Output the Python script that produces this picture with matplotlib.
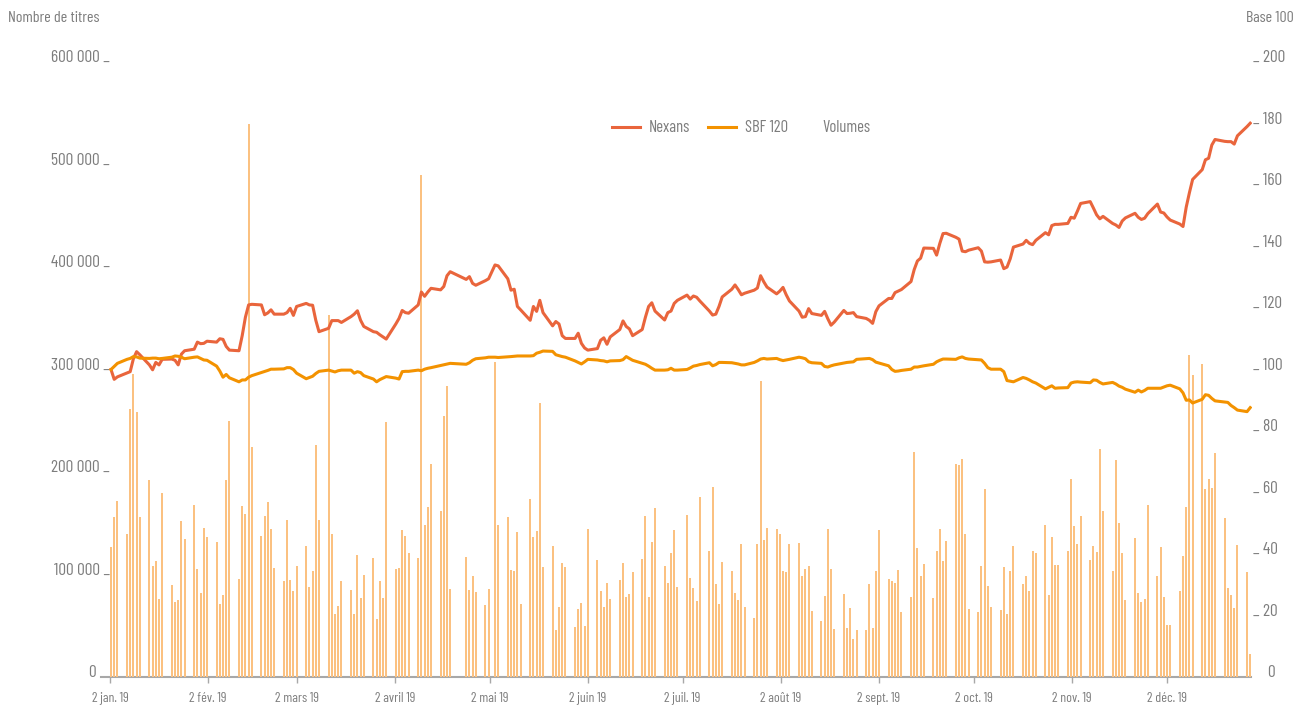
import matplotlib
matplotlib.use('Agg')
import matplotlib.pyplot as plt
import matplotlib.dates as mdates
from matplotlib.lines import Line2D
import numpy as np
import pandas as pd

plt.rcParams['font.family'] = ['Barlow Condensed', 'Roboto Condensed', 'DejaVu Sans']

# ---------------- data ----------------
holidays = ['2019-04-19', '2019-04-22', '2019-05-01']
trading_days = pd.bdate_range('2019-01-02', '2019-12-24')
trading_days = trading_days[~trading_days.isin(pd.to_datetime(holidays))]

# daily volumes (thousands of shares), month by month
vol_jan = [127, 156, 172, 140, 261, 296, 259, 156, 192, 108, 113, 76, 180, 90, 73, 75, 152, 135, 168, 105, 82, 145]
vol_feb = [137, 132, 71, 80, 192, 250, 96, 167, 159, 540, 224, 138, 157, 171, 144, 106, 94, 153, 95, 84]
vol_mar = [108, 128, 88, 103, 226, 153, 353, 140, 61, 69, 94, 85, 61, 119, 77, 100, 116, 57, 94, 77, 249]
vol_apr = [105, 106, 143, 138, 121, 116, 490, 148, 166, 208, 162, 255, 284, 86, 117, 85, 99, 83, 70, 86]
vol_may = [307, 148, 156, 104, 103, 141, 71, 174, 137, 142, 267, 107, 128, 46, 68, 111, 107, 49, 66, 72, 50, 144]
vol_jun = [114, 84, 68, 92, 76, 95, 111, 78, 81, 102, 115, 157, 78, 132, 165, 108, 92, 121, 143, 88]
vol_jul = [158, 97, 87, 74, 176, 123, 185, 91, 71, 112, 103, 82, 75, 130, 68, 58, 130, 289, 134, 145, 144, 140, 103]
vol_aug = [102, 130, 131, 99, 105, 108, 64, 55, 79, 144, 105, 47, 81, 48, 67, 37, 46, 46, 91, 48, 103, 143]
vol_sep = [96, 94, 92, 104, 63, 78, 220, 126, 99, 110, 77, 123, 144, 113, 133, 208, 207, 213, 140, 66, 63]
vol_oct = [108, 183, 89, 68, 65, 107, 61, 103, 128, 91, 99, 84, 123, 121, 148, 80, 137, 109, 109, 123, 193, 147, 130]
vol_nov = [157, 114, 128, 122, 222, 162, 103, 212, 150, 121, 75, 136, 82, 73, 76, 168, 99, 127, 78, 51, 51]
vol_dec = [84, 118, 166, 314, 295, 305, 183, 193, 184, 219, 155, 87, 80, 67, 129, 102, 22]

# Nexans share price, base 100
nex_jan = [100, 96.8, 97.6, 98.9, 99.3, 103.5, 105.8, 104.8, 101.5, 99.9, 102.3, 101.5, 103.3, 103.4, 103.0, 101.5, 105.0, 106.1, 106.6, 108.9, 108.4, 108.5]
nex_feb = [109.2, 108.9, 110.0, 109.8, 107.5, 106.3, 106.1, 111.0, 117.0, 121.0, 121.2, 121.0, 117.8, 118.4, 119.4, 118.0, 118.0, 118.5, 119.9, 117.6]
nex_mar = [120.5, 121.5, 121.0, 120.9, 116.0, 112.3, 113.4, 115.9, 115.9, 115.9, 115.3, 117.2, 118.0, 119.1, 116.0, 114.0, 112.3, 112.1, 111.3, 110.6, 109.9]
nex_apr = [114.8, 116.6, 119.2, 118.5, 118.3, 121.0, 125.2, 123.8, 125.2, 126.4, 125.9, 127.0, 130.5, 131.8, 129.3, 130.2, 128.0, 127.4, 128.9, 129.5]
nex_may = [134.0, 133.7, 129.5, 125.8, 126.1, 120.5, 119.4, 116.0, 120.5, 118.9, 122.5, 118.5, 114.2, 115.6, 114.8, 111.0, 110.1, 110.1, 111.8, 108.5, 107.0, 106.3]
nex_jun = [106.8, 109.5, 110.3, 108.2, 110.6, 113.0, 115.8, 114.0, 113.2, 111.0, 113.0, 117.0, 120.5, 121.7, 119.0, 116.1, 118.5, 119.0, 121.5, 122.5]
nex_jul = [124.2, 122.9, 123.9, 123.5, 122.3, 119.0, 117.7, 118.0, 120.5, 123.6, 126.1, 127.5, 126.0, 124.3, 124.8, 125.8, 126.5, 130.5, 128.5, 126.8, 124.6, 125.5, 126.7]
nex_aug = [124.3, 122.3, 119.0, 117.0, 117.2, 119.8, 118.2, 117.6, 118.9, 116.5, 114.4, 115.4, 119.2, 118.2, 118.3, 118.5, 117.2, 116.6, 116.0, 115.0, 118.8, 120.7]
nex_sep = [123.1, 123.1, 125.0, 125.5, 126.0, 128.6, 132.5, 135.3, 136.2, 139.5, 139.4, 137.2, 141.0, 144.2, 144.3, 143.0, 142.4, 138.5, 138.3, 138.8, 139.6]
nex_oct = [138.5, 135.0, 134.9, 135.0, 135.6, 132.8, 133.3, 136.0, 139.8, 140.8, 142.0, 141.0, 140.6, 142.0, 144.5, 143.8, 146.8, 147.2, 147.2, 147.5, 149.5, 149.2, 151.5]
nex_nov = [154.0, 154.6, 152.5, 150.3, 149.0, 149.8, 147.5, 147.0, 146.2, 148.3, 149.3, 150.8, 149.5, 148.8, 149.2, 150.7, 153.8, 151.2, 150.9, 149.6, 148.6]
nex_dec = [147.3, 146.5, 152.8, 157.5, 161.8, 165.0, 168.2, 168.7, 173.0, 174.8, 174.2, 174.1, 174.1, 173.3, 176.0, 179.0, 180.1]

# SBF 120, base 100
sbf_jan = [100, 101.0, 102.0, 103.3, 103.6, 104.2, 104.1, 103.7, 103.6, 103.7, 103.7, 103.5, 103.6, 104.0, 104.4, 104.3, 104.0, 103.5, 104.0, 104.1, 103.6, 103.1]
sbf_feb = [103.0, 101.1, 99.5, 97.5, 98.4, 97.3, 96.0, 96.6, 96.6, 97.5, 98.0, 99.0, 99.3, 99.7, 100.1, 100.1, 100.2, 100.6, 100.6, 100.0]
sbf_mar = [98.8, 97.0, 97.4, 97.8, 98.7, 99.4, 99.8, 99.5, 99.2, 99.6, 99.8, 99.8, 98.8, 99.3, 99.0, 98.0, 96.9, 96.0, 96.7, 97.2, 97.7]
sbf_apr = [97.2, 96.9, 99.3, 99.4, 99.4, 99.8, 99.6, 100.1, 100.4, 100.6, 101.3, 101.5, 101.8, 102.0, 101.7, 102.2, 103.0, 103.5, 103.8, 104.0]
sbf_may = [104.0, 103.9, 104.1, 104.2, 104.3, 104.4, 104.4, 104.4, 104.5, 105.3, 105.6, 106.0, 105.9, 104.8, 104.5, 104.2, 104.0, 102.8, 102.3, 101.8, 102.5, 103.3]
sbf_jun = [103.1, 102.9, 102.8, 102.5, 102.8, 102.9, 103.2, 104.2, 103.6, 103.0, 102.0, 101.7, 101.1, 100.4, 99.8, 99.8, 99.9, 100.4, 99.8, 99.8]
sbf_jul = [100.0, 100.5, 101.1, 101.3, 101.6, 102.2, 101.2, 101.6, 102.3, 102.3, 102.2, 102.0, 101.8, 101.5, 101.5, 102.3, 102.8, 103.4, 103.6, 103.4, 103.6, 103.2, 102.9]
sbf_aug = [103.1, 103.3, 104.0, 103.8, 103.5, 102.5, 102.2, 102.0, 101.0, 100.8, 101.2, 101.5, 102.1, 102.3, 102.4, 102.5, 103.3, 103.5, 103.6, 103.2, 102.4, 102.1]
sbf_sep = [101.2, 100.0, 99.4, 99.5, 99.7, 100.1, 100.8, 100.8, 101.0, 101.2, 101.7, 102.5, 103.0, 103.4, 103.4, 103.3, 103.8, 104.1, 103.6, 103.4, 103.2]
sbf_oct = [103.1, 102.0, 100.6, 100.1, 100.1, 99.3, 96.4, 96.2, 96.0, 97.4, 97.1, 96.6, 96.0, 95.6, 93.7, 94.2, 94.7, 93.9, 94.0, 94.1, 95.6, 95.9, 96.0]
sbf_nov = [95.9, 95.7, 96.6, 96.5, 95.8, 95.3, 95.8, 95.3, 94.6, 94.2, 93.6, 92.6, 93.3, 92.7, 93.2, 93.9, 93.9, 93.9, 94.3, 94.7, 94.9]
sbf_dec = [93.7, 92.4, 90.0, 90.1, 89.1, 90.3, 91.8, 91.6, 90.6, 89.8, 89.4, 89.3, 88.3, 87.6, 86.8, 86.3, 87.6]

volumes = np.array(vol_jan + vol_feb + vol_mar + vol_apr + vol_may + vol_jun + vol_jul
                   + vol_aug + vol_sep + vol_oct + vol_nov + vol_dec) * 1000
nexans = nex_jan + nex_feb + nex_mar + nex_apr + nex_may + nex_jun + nex_jul + nex_aug + nex_sep + nex_oct + nex_nov + nex_dec
sbf120 = sbf_jan + sbf_feb + sbf_mar + sbf_apr + sbf_may + sbf_jun + sbf_jul + sbf_aug + sbf_sep + sbf_oct + sbf_nov + sbf_dec

tick_dates = pd.to_datetime(['2019-%02d-02' % m for m in range(1, 13)])
tick_labels = ['2 jan. 19', '2 fév. 19', '2 mars 19', '2 avril 19', '2 mai 19', '2 juin 19',
               '2 juil. 19', '2 août 19', '2 sept. 19', '2 oct. 19', '2 nov. 19', '2 déc. 19']
left_ticks = [0, 100000, 200000, 300000, 400000, 500000, 600000]
left_labels = ['0', '100 000 _', '200 000 _', '300 000 _', '400 000 _', '500 000 _', '600 000 _']
right_ticks = [0, 20, 40, 60, 80, 100, 120, 140, 160, 180, 200]
right_labels = ['0'] + ['_ %d' % v for v in right_ticks[1:]]

# ---------------- style ----------------
C_NEX = '#E9653C'
C_SBF = '#F39200'
C_VOL = '#FBC181'
C_TXT = '#7D7D7D'
C_AX = '#A8A8A8'

W, H = 1298, 705
fig = plt.figure(figsize=(W / 100, H / 100), dpi=100)
pos = [101 / W, 1 - 677 / H, (1251.5 - 101) / W, (677 - 62) / H]

# axis carrying the date ticks
ax_t = fig.add_axes(pos)
ax_t.set_facecolor('none')
t0 = mdates.date2num(pd.Timestamp('2019-01-02'))
ax_t.set_xlim(t0 - 2.845, t0 + 360.8)
ax_t.set_xticks(mdates.date2num(tick_dates))
ax_t.set_xticklabels(tick_labels, fontsize=10, color=C_TXT)
ax_t.tick_params(axis='x', length=4.5, width=1.0, color=C_AX, pad=6)
ax_t.set_yticks([])
for s in ['left', 'right', 'top']:
    ax_t.spines[s].set_visible(False)
ax_t.spines['bottom'].set_color(C_AX)
ax_t.spines['bottom'].set_linewidth(1.5)

# volumes
ax = fig.add_axes(pos)
ax.set_facecolor('none')
xd = mdates.date2num(trading_days)
ax.bar(xd, volumes, width=0.62, color=C_VOL, linewidth=0, zorder=1)
ax.set_xlim(xd[0] - 3.125, xd[-1] + 0.4)
ax.set_ylim(0, 600000)
ax.set_xticks([])
ax.set_yticks([])
for s in ax.spines.values():
    s.set_visible(False)
ytr = ax.get_yaxis_transform()
for v, lab in zip(left_ticks, left_labels):
    xa = -0.0043 if v == 0 else 0.0078
    ax.text(xa, v, lab, transform=ytr, ha='right', va='baseline', fontsize=12.5, color=C_TXT)

# lines
ax2 = ax.twinx()
ax2.plot(xd, nexans, color=C_NEX, lw=2.2, solid_joinstyle='round')
ax2.plot(xd, sbf120, color=C_SBF, lw=2.2, solid_joinstyle='round')
ax2.set_ylim(0, 200)
ax2.set_yticks([])
for s in ax2.spines.values():
    s.set_visible(False)
ytr2 = ax2.get_yaxis_transform()
for v, lab in zip(right_ticks, right_labels):
    xa = 1.0135 if v == 0 else 1.0013
    ax2.text(xa, v, lab, transform=ytr2, ha='left', va='baseline', fontsize=12.5, color=C_TXT)

# legend
handles = [Line2D([], [], color=C_NEX, lw=2.2), Line2D([], [], color=C_SBF, lw=2.2)]
fig.legend(handles, ['Nexans', 'SBF 120'], loc='center left', bbox_to_anchor=(612 / W, 1 - 128 / H),
           ncol=2, frameon=False, handlelength=1.65, handletextpad=0.55, columnspacing=1.1,
           borderpad=0, borderaxespad=0, fontsize=12, labelcolor=C_TXT)
fig.text(822 / W, 1 - 128 / H, 'Volumes', ha='left', va='center', fontsize=12, color=C_TXT)

fig.text(8 / W, 1 - 18 / H, 'Nombre de titres', ha='left', va='center', fontsize=11.5, color=C_TXT)
fig.text(1294 / W, 1 - 18 / H, 'Base 100', ha='right', va='center', fontsize=11.5, color=C_TXT)

fig.savefig('out.png', dpi=100)
